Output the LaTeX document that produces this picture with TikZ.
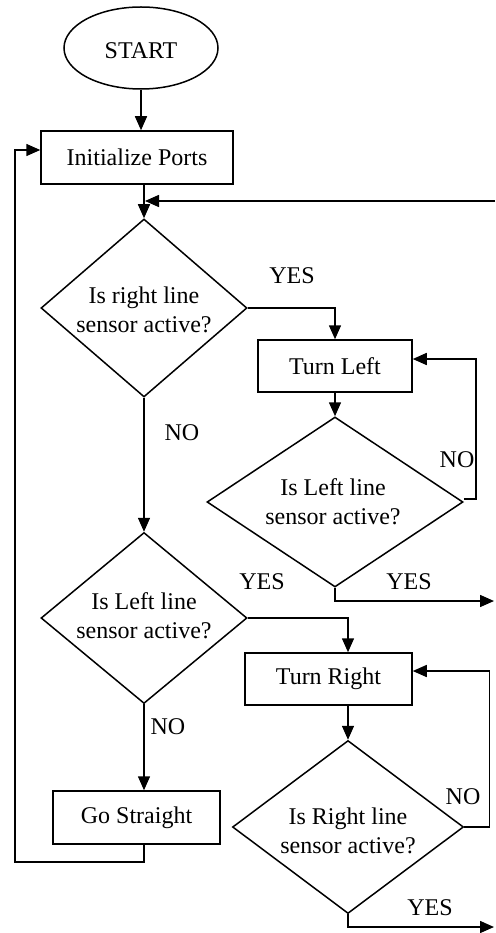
\documentclass[tikz,border=0pt]{standalone}
\usepackage{fontspec}
\setmainfont{Liberation Serif}
\usetikzlibrary{shapes.geometric,arrows.meta}

\begin{document}
\begin{tikzpicture}[x=1pt,y=-1pt,
  line width=1.5pt,
  every node/.style={font=\fontsize{24}{29}\selectfont, inner sep=0pt},
  proc/.style={draw, rectangle},
  dec/.style={draw, diamond},
  term/.style={draw, ellipse},
  txt/.style={align=center},
  arr/.style={-{Triangle[length=14pt,width=12pt]}},
]
\useasboundingbox (0,0) rectangle (495,933);

% blocks
\node[term, minimum width=154pt, minimum height=82pt] (start) at (141,48) {};
\node[txt] (starttxt) at (141,51) {START};
\node[proc, minimum width=192pt, minimum height=53pt] (init) at (137,157.5) {Initialize Ports};

\node[dec, minimum width=206pt, minimum height=178pt] (d1) at (144,308) {};
\node[txt] (d1txt) at (144,310) {Is right line\\sensor active?};

\node[proc, minimum width=154pt, minimum height=52pt] (tl) at (335,366) {Turn Left};

\node[dec, minimum width=256pt, minimum height=170pt] (d2) at (335,502) {};
\node[txt] (d2txt) at (333,502) {Is Left line\\sensor active?};

\node[dec, minimum width=206pt, minimum height=171pt] (d3) at (144,618) {};
\node[txt] (d3txt) at (144,616) {Is Left line\\sensor active?};

\node[proc, minimum width=167pt, minimum height=52pt] (tr) at (328.5,679) {Turn Right};

\node[proc, minimum width=167pt, minimum height=53pt] (gs) at (136.5,817.5) {Go Straight};

\node[dec, minimum width=231pt, minimum height=173pt] (d4) at (348,827) {};
\node[txt] (d4txt) at (348,831) {Is Right line\\sensor active?};

% free ends of connectors
\coordinate (ret) at (495,201);
\coordinate (out1) at (494,601);
\coordinate (out2) at (494,927);
\coordinate (lp) at (15,862);

% connectors
\draw[arr] (start.south) -- (start.south |- init.north);
\draw[arr] (d1.north |- init.south) -- (d1.north);
\draw[arr] (ret) -- ([xshift=1pt]d1.north |- ret);
\draw[arr] (d1.east) -| (tl.north);
\draw[arr] (tl.south) -- (d2.north);
\draw[arr] ([yshift=3pt]d2.east) -- ++(12,0) |- ([yshift=7pt]tl.east);
\draw[arr] (d2.south) |- (out1);
\draw[arr] (d1.south) -- (d3.north);
\draw[arr] (d3.east) -| (d4.north |- tr.north);
\draw[arr] (d4.north |- tr.south) -- (d4.north);
\draw[arr] (d4.east) -- ++(25,0) |- ([yshift=8pt]tr.east);
\draw[arr] (d4.south) |- (out2);
\draw[arr] (d3.south) -- (d3.south |- gs.north);
\draw[arr] (d3.south |- gs.south) |- (lp) |- ([yshift=7.5pt]init.west);

% branch labels
\node (y1) at (292,276) {YES};
\node (n1) at (182,433) {NO};
\node (n2) at (457,460) {NO};
\node (y2) at (409,582) {YES};
\node (y3) at (262,582) {YES};
\node (n3) at (168,727) {NO};
\node (n4) at (463,797) {NO};
\node (y4) at (430,908) {YES};
\end{tikzpicture}
\end{document}
